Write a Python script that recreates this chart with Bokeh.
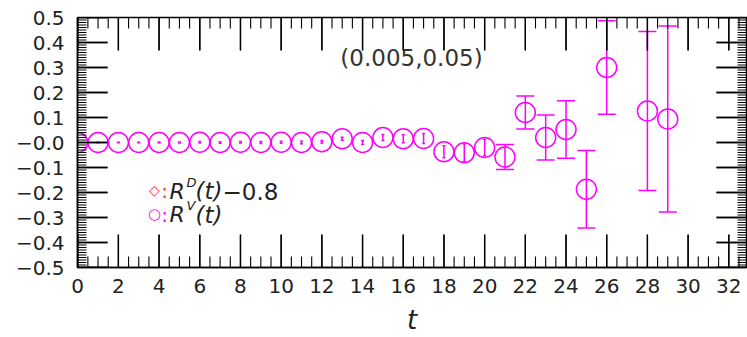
from bokeh.plotting import figure
from bokeh.models import (ColumnDataSource, Whisker, TeeHead, FixedTicker, BoxAnnotation,
                          Label, Range1d, CustomJSTickFormatter)
from bokeh.embed import file_html
from bokeh.resources import INLINE
import numpy as np

# ---------------- data ----------------
t_vals = [0, 1, 2, 3, 4, 5, 6, 7, 8, 9, 10, 11, 12, 13, 14, 15, 16, 17, 18, 19, 20,
          21, 22, 23, 24, 25, 26, 28, 29]
rv_vals = [0.0, 0.0, 0.0, 0.0, 0.0, 0.0, 0.001, 0.0, 0.001, 0.0, 0.001, 0.0, 0.003,
           0.015, 0.0, 0.02, 0.015, 0.016, -0.037, -0.041, -0.02, -0.058,
           0.12, 0.02, 0.052, -0.187, 0.30, 0.126, 0.094]
rv_err = [0.001, 0.001, 0.001, 0.001, 0.002, 0.002, 0.003, 0.003, 0.003, 0.004, 0.004,
          0.005, 0.005, 0.006, 0.008, 0.012, 0.016, 0.02, 0.024, 0.035, 0.033, 0.05,
          0.066, 0.09, 0.115, 0.155, 0.187, 0.318, 0.372]

x_ticks = list(range(0, 33, 2))
x_tick_labels = [str(v) for v in x_ticks]
y_ticks = [-0.5, -0.4, -0.3, -0.2, -0.1, 0.0, 0.1, 0.2, 0.3, 0.4, 0.5]
y_tick_labels = ["\u22120.5", "\u22120.4", "\u22120.3", "\u22120.2", "\u22120.1", "\u22120.0",
                 "0.1", "0.2", "0.3", "0.4", "0.5"]
annotation_text = "(0.005,0.05)"
x_axis_title = "t"

MAG = "#ff00ff"
RED = "#ff3030"
FONT = "DejaVu Sans"

X0, X1 = -0.01, 32.87
Y0, Y1 = -0.5, 0.5

W, H = 747, 337
FL, FR, FT, FB = 77.0, 746.0, 17.0, 269.0

p = figure(width=W, height=H, output_backend="svg", toolbar_location=None,
           x_range=Range1d(X0, X1), y_range=Range1d(Y0, Y1),
           min_border_left=int(FL), min_border_right=int(W - FR),
           min_border_top=int(FT), min_border_bottom=int(H - FB),
           background_fill_color="white", border_fill_color="white")
p.xgrid.grid_line_color = None
p.ygrid.grid_line_color = None
p.grid.visible = False
p.outline_line_color = "black"
p.outline_line_width = 1.5

PXX = (FR - FL) / (X1 - X0)
PXY = (FB - FT) / (Y1 - Y0)
def dx(px):
    return X0 + (px - FL) / PXX
def dy(py):
    return Y1 - (py - FT) / PXY

fmt_js = """
let best = 0, bd = 1e9;
for (let i = 0; i < tvals.length; i++) {
  const d = Math.abs(tvals[i] - tick);
  if (d < bd) { bd = d; best = i; }
}
return tlabels[best];
"""

def style_axis(ax, major, lbls):
    ax.ticker = FixedTicker(ticks=major, minor_ticks=[])
    ax.major_tick_in = 0
    ax.major_tick_out = 0
    ax.minor_tick_in = 0
    ax.minor_tick_out = 0
    ax.major_tick_line_color = None
    ax.minor_tick_line_color = None
    ax.axis_line_color = "black"
    ax.axis_line_width = 1.5
    ax.formatter = CustomJSTickFormatter(args=dict(tvals=major, tlabels=lbls), code=fmt_js)
    ax.major_label_text_font = FONT
    ax.major_label_text_font_size = "20px"
    ax.major_label_text_color = "#222222"

style_axis(p.xaxis[0], x_ticks, x_tick_labels)
style_axis(p.yaxis[0], y_ticks, y_tick_labels)
p.xaxis[0].major_label_standoff = 11
p.yaxis[0].major_label_standoff = 13
p.xaxis[0].axis_label = x_axis_title
p.xaxis[0].axis_label_text_font = FONT
p.xaxis[0].axis_label_text_font_style = "italic"
p.xaxis[0].axis_label_text_font_size = "26px"
p.xaxis[0].axis_label_text_color = "#222222"
p.xaxis[0].axis_label_standoff = 9

# ---------------- inward ticks on all four sides ----------------
x_minor = [float(v) for v in np.arange(0.5, 32.9, 0.5) if float(v) not in x_ticks]
y_minor = [round(float(v), 3) for v in np.arange(-0.49, 0.4901, 0.01)]
y_minor = [v for v in y_minor if all(abs(v - m) > 1e-6 for m in y_ticks)]

def tick_whisker(pos, length_px, width, dim):
    pos = [float(v) for v in pos]
    n = len(pos)
    if dim == "height":
        L = length_px / PXY
        lo_, hi_ = [Y0] * n + [Y1 - L] * n, [Y0 + L] * n + [Y1] * n
    else:
        L = length_px / PXX
        lo_, hi_ = [X0] * n + [X1 - L] * n, [X0 + L] * n + [X1] * n
    src = ColumnDataSource(dict(b=pos * 2, lo=lo_, hi=hi_))
    p.add_layout(Whisker(base="b", lower="lo", upper="hi", source=src, dimension=dim,
                         line_color="black", line_width=width, level="overlay",
                         upper_head=None, lower_head=None))

tick_whisker(x_minor, 11, 1.1, "height")
tick_whisker(y_minor, 9, 1.0, "width")

# major ticks: thin box annotations and screen-sized rects centred on the frame edges
HWX = 0.65 / PXX
HWY = 0.65 / PXY
LX = 33.0 / PXY
LY = 30.0 / PXX
for v in x_ticks:
    xv = float(v)
    for yb, yt in ((Y0, Y0 + LX), (Y1 - LX, Y1)):
        p.add_layout(BoxAnnotation(left=xv - HWX, right=xv + HWX, bottom=yb, top=yt,
                                   fill_color="black", fill_alpha=1.0, line_color=None,
                                   level="overlay"))
for v in y_ticks:
    yv = float(v)
    for xl, xr in ((X0, X0 + LY), (X1 - LY, X1)):
        p.add_layout(BoxAnnotation(left=xl, right=xr, bottom=yv - HWY, top=yv + HWY,
                                   fill_color="black", fill_alpha=1.0, line_color=None,
                                   level="overlay"))

mx_src = ColumnDataSource(dict(x=[float(v) for v in x_ticks] * 2,
                               y=[Y0] * len(x_ticks) + [Y1] * len(x_ticks)))
p.rect(x="x", y="y", width=1.3, height=66, width_units="screen", height_units="screen",
       source=mx_src, fill_color="black", line_color=None)
my_src = ColumnDataSource(dict(x=[X0] * len(y_ticks) + [X1] * len(y_ticks),
                               y=[float(v) for v in y_ticks] * 2))
p.rect(x="x", y="y", width=60, height=1.3, width_units="screen", height_units="screen",
       source=my_src, fill_color="black", line_color=None)

# ---------------- series ----------------
lo = [v - e for v, e in zip(rv_vals, rv_err)]
hi = [v + e for v, e in zip(rv_vals, rv_err)]
big = [i for i, e in enumerate(rv_err) if e >= 0.04]
small = [i for i, e in enumerate(rv_err) if e < 0.04]

def sub(idx):
    return ColumnDataSource(dict(t=[t_vals[i] for i in idx], lo=[lo[i] for i in idx],
                                 hi=[hi[i] for i in idx]))

for idx, cap in ((big, 18), (small, 3)):
    w = Whisker(base="t", lower="lo", upper="hi", source=sub(idx), dimension="height",
                line_color=MAG, line_width=1.5,
                upper_head=TeeHead(size=cap, line_color=MAG, line_width=1.5),
                lower_head=TeeHead(size=cap, line_color=MAG, line_width=1.5))
    p.add_layout(w)

src = ColumnDataSource(dict(t=t_vals, rv=rv_vals))
p.scatter("t", "rv", source=src, marker="circle", size=20, fill_color=None,
          line_color=MAG, line_width=1.5)

# ---------------- texts ----------------
def lab(px, py, text, size="22px", color="#222222", style="normal", align="left"):
    p.add_layout(Label(x=dx(px), y=dy(py), text=text, text_font=FONT, text_font_size=size,
                       text_color=color, text_font_style=style, text_align=align,
                       text_baseline="middle"))

lab(411, 58, annotation_text, size="23px", color="#333333", align="center")

# legend, row 1
lab(154, 191, "\u25c7", size="14px", color=RED, align="center")
lab(164, 192, ":", size="20px", color=RED, align="center")
lab(169, 192, "R", style="italic")
lab(186, 183, "D", size="13px", style="italic")
lab(195, 192, "(t)", size="23px", style="italic")
lab(222, 192, "\u22120.8", size="23px")
# legend, row 2
lab(154, 215, "\u25cb", size="15px", color=MAG, align="center")
lab(164, 216, ":", size="20px", color=MAG, align="center")
lab(169, 216, "R", style="italic")
lab(186, 207, "V", size="13px", style="italic")
lab(195, 216, "(t)", size="23px", style="italic")

open("out.html", "w").write(file_html(p, INLINE))
